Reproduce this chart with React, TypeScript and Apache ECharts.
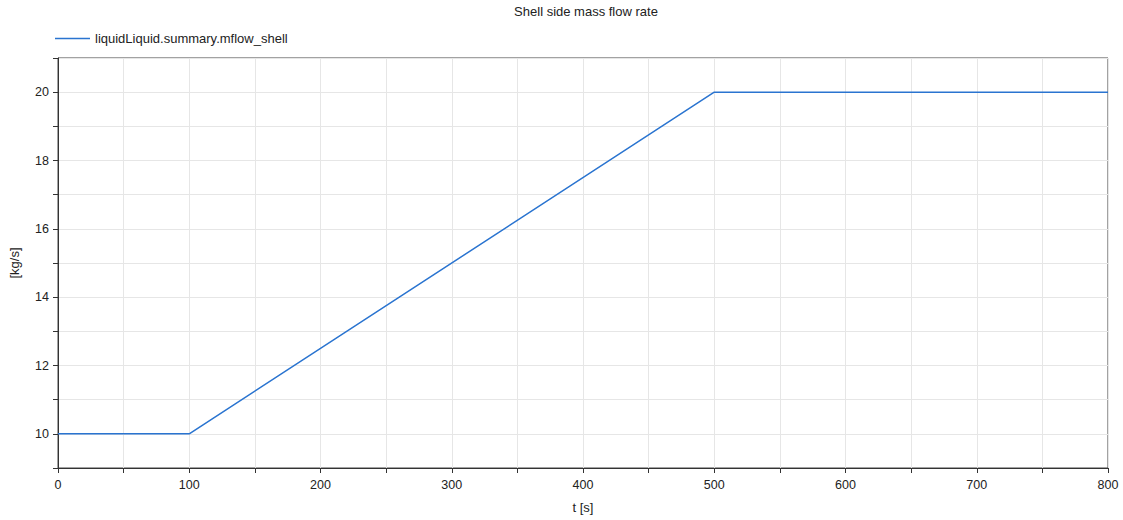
import React, { useEffect, useRef } from "react";
import * as echarts from "echarts";

const seriesName = "liquidLiquid.summary.mflow_shell";
const timeValues = [0, 100, 500, 800];
const flowValues = [10, 10, 20, 20];
const titleText = "Shell side mass flow rate";
const xAxisName = "t [s]";
const yAxisName = "[kg/s]";

export default function App() {
  const ref = useRef<HTMLDivElement>(null);
  useEffect(() => {
    document.body.style.margin = "0";
    const chart = echarts.init(ref.current!, undefined, { renderer: "svg" });
    const font = "'Liberation Sans', Arial, sans-serif";
    chart.setOption({
      animation: false,
      backgroundColor: "#ffffff",
      textStyle: { fontFamily: font },
      title: {
        text: titleText,
        left: 581,
        textAlign: "center",
        top: 0,
        textStyle: { fontSize: 13, fontWeight: "normal", color: "#222", fontFamily: font },
      },
      legend: {
        left: 50,
        top: 27,
        icon: "rect",
        itemWidth: 35,
        itemHeight: 1.5,
        itemGap: 10,
        textStyle: { fontSize: 13, color: "#222", fontFamily: font },
        data: [seriesName],
      },
      grid: {
        left: 55,
        right: 15,
        top: 58,
        bottom: 52,
        show: true,
        borderColor: "#444",
        borderWidth: 1,
        containLabel: false,
      },
      xAxis: {
        type: "value",
        min: 0,
        max: 800,
        interval: 50,
        name: xAxisName,
        nameLocation: "middle",
        nameGap: 33,
        nameTextStyle: { fontSize: 13, color: "#222", fontFamily: font },
        axisLine: { show: true, lineStyle: { color: "#333", width: 1 } },
        axisTick: { show: true, length: 5, lineStyle: { color: "#333" } },
        axisLabel: {
          fontSize: 12.5,
          color: "#222",
          margin: 10,
          formatter: (v: number) => (v % 100 === 0 ? String(v) : ""),
        },
        splitLine: { show: true, lineStyle: { color: "#e6e6e6", width: 1 } },
      },
      yAxis: {
        type: "value",
        min: 9,
        max: 21,
        interval: 1,
        name: yAxisName,
        nameLocation: "middle",
        nameGap: 37,
        nameTextStyle: { fontSize: 13, color: "#222", fontFamily: font },
        axisLine: { show: true, lineStyle: { color: "#333", width: 1 } },
        axisTick: { show: true, length: 5, lineStyle: { color: "#333" } },
        axisLabel: {
          fontSize: 12.5,
          color: "#222",
          margin: 9,
          formatter: (v: number) => (v % 2 === 0 ? String(v) : ""),
        },
        splitLine: { show: true, lineStyle: { color: "#e6e6e6", width: 1 } },
      },
      series: [
        {
          name: seriesName,
          type: "line",
          data: timeValues.map((t, i) => [t, flowValues[i]]),
          showSymbol: false,
          symbol: "none",
          lineStyle: { color: "#2a74d0", width: 1.5 },
          itemStyle: { color: "#2a74d0" },
        },
      ],
    });
    return () => chart.dispose();
  }, []);
  return <div ref={ref} style={{ width: 1123, height: 520 }} />;
}
